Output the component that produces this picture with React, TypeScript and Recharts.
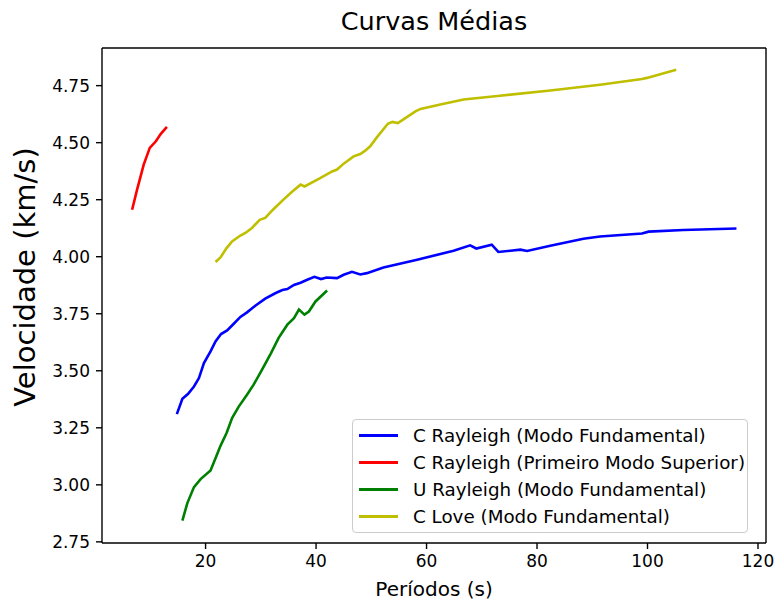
import React from "react";
import { LineChart, Line, XAxis, YAxis, ReferenceLine } from "recharts";

// períodos (s) e velocidades (km/s)
const cRayFundP = [14.8, 15.8, 16.8, 17.9, 18.8, 19.7, 20.9, 21.8, 22.8, 23.9, 25.1, 26.3, 27.5, 29.0, 30.8, 32.7, 33.9, 34.8, 36.0, 37.2, 38.4, 39.7, 40.9, 41.9, 43.8, 45.0, 46.5, 48.0, 49.2, 52.2, 58.3, 64.9, 67.9, 69.0, 71.8, 73.0, 77.0, 78.2, 82.4, 88.4, 91.4, 99.0, 100.2, 106.5, 116.1];
const cRayFundV = [3.31, 3.377, 3.398, 3.431, 3.468, 3.534, 3.585, 3.629, 3.661, 3.677, 3.706, 3.736, 3.756, 3.785, 3.816, 3.841, 3.854, 3.858, 3.876, 3.886, 3.899, 3.912, 3.902, 3.909, 3.906, 3.921, 3.934, 3.922, 3.928, 3.953, 3.987, 4.026, 4.05, 4.036, 4.053, 4.021, 4.031, 4.025, 4.048, 4.079, 4.089, 4.102, 4.11, 4.117, 4.124];

const cRaySupP = [6.7, 7.6, 8.8, 9.9, 11.0, 11.9, 13.0];
const cRaySupV = [4.206, 4.294, 4.404, 4.477, 4.506, 4.539, 4.569];

const uRayFundP = [15.8, 16.7, 17.9, 19.1, 20.9, 21.8, 22.7, 23.8, 24.8, 26.0, 27.5, 28.7, 30.2, 31.8, 33.2, 34.8, 36.0, 36.9, 37.9, 38.7, 39.9, 42.0];
const uRayFundV = [2.843, 2.92, 2.99, 3.025, 3.063, 3.117, 3.171, 3.227, 3.293, 3.343, 3.395, 3.439, 3.504, 3.575, 3.643, 3.702, 3.731, 3.768, 3.746, 3.76, 3.804, 3.852];

const cLoveFundP = [21.8, 22.7, 23.8, 24.8, 26.3, 27.2, 28.4, 29.8, 30.8, 32.2, 33.9, 35.7, 37.2, 37.9, 40.5, 42.9, 43.8, 45.0, 46.8, 48.0, 48.9, 49.8, 51.0, 53.0, 53.8, 54.8, 56.5, 58.0, 58.9, 62.5, 66.7, 73.3, 82.4, 91.4, 99.0, 99.9, 105.2];
const cLoveFundV = [3.977, 3.997, 4.038, 4.067, 4.093, 4.104, 4.126, 4.162, 4.17, 4.206, 4.246, 4.286, 4.316, 4.308, 4.341, 4.374, 4.382, 4.408, 4.44, 4.45, 4.465, 4.484, 4.523, 4.583, 4.591, 4.586, 4.613, 4.637, 4.648, 4.667, 4.689, 4.706, 4.729, 4.754, 4.779, 4.784, 4.82];

const xTicks = [20, 40, 60, 80, 100, 120];
const yTicks = [2.75, 3.0, 3.25, 3.5, 3.75, 4.0, 4.25, 4.5, 4.75];

const X_DOMAIN: [number, number] = [1.25, 121.45];
const Y_DOMAIN: [number, number] = [2.745, 4.915];

const toPoints = (p: number[], v: number[]) => p.map((x, i) => ({ p: x, v: v[i] }));

const series = [
  { name: "C Rayleigh (Modo Fundamental)", color: "#0000ff", data: toPoints(cRayFundP, cRayFundV) },
  { name: "C Rayleigh (Primeiro Modo Superior)", color: "#ff0000", data: toPoints(cRaySupP, cRaySupV) },
  { name: "U Rayleigh (Modo Fundamental)", color: "#008000", data: toPoints(uRayFundP, uRayFundV) },
  { name: "C Love (Modo Fundamental)", color: "#bfbf00", data: toPoints(cLoveFundP, cLoveFundV) },
];

const FONT = "'DejaVu Sans', sans-serif";
const tickStyle = { fill: "#000", fontSize: 17, fontFamily: FONT };

export default function App() {
  return (
    <div style={{ position: "absolute", left: 0, top: 0, width: 778, height: 605, background: "#fff" }}>
      <LineChart width={778} height={605} margin={{ top: 48, right: 12, bottom: 0, left: 0 }}>
        <XAxis
          dataKey="p"
          type="number"
          domain={X_DOMAIN}
          allowDataOverflow
          ticks={xTicks}
          tick={tickStyle}
          tickSize={6}
          tickMargin={6}
          height={62}
          stroke="#000"
          axisLine={{ stroke: "#000", strokeWidth: 1.4 }}
          tickLine={{ stroke: "#000", strokeWidth: 1.4 }}
          label={{
            value: "Períodos (s)",
            position: "insideBottom",
            offset: 9,
            style: { fill: "#000", fontSize: 20, fontFamily: FONT },
          }}
        />
        <YAxis
          dataKey="v"
          type="number"
          domain={Y_DOMAIN}
          allowDataOverflow
          ticks={yTicks}
          tickFormatter={(v: number) => v.toFixed(2)}
          tick={tickStyle}
          tickSize={6}
          tickMargin={6}
          width={102}
          stroke="#000"
          axisLine={{ stroke: "#000", strokeWidth: 1.4 }}
          tickLine={{ stroke: "#000", strokeWidth: 1.4 }}
          label={{
            content: () => (
              <text
                x={25}
                y={277}
                transform="rotate(-90 25 277)"
                textAnchor="middle"
                dominantBaseline="central"
                style={{ fill: "#000", fontSize: 29, fontFamily: FONT }}
              >
                Velocidade (km/s)
              </text>
            ),
          }}
        />
        <ReferenceLine x={X_DOMAIN[1]} stroke="#000" strokeWidth={1.4} />
        <ReferenceLine y={Y_DOMAIN[1]} stroke="#000" strokeWidth={1.4} />
        {series.map((s) => (
          <Line
            key={s.name}
            data={s.data}
            dataKey="v"
            name={s.name}
            type="linear"
            stroke={s.color}
            strokeWidth={2.6}
            dot={false}
            activeDot={false}
            isAnimationActive={false}
          />
        ))}
        <text x={434} y={30} textAnchor="middle" style={{ fill: "#000", fontSize: 25.5, fontFamily: FONT }}>
          Curvas Médias
        </text>
      </LineChart>
      <div
        style={{
          position: "absolute",
          left: 352,
          top: 419,
          width: 394,
          height: 112,
          border: "1px solid #cccccc",
          borderRadius: 4,
          background: "rgba(255,255,255,0.8)",
          fontFamily: FONT,
          fontSize: 18.3,
          color: "#000",
        }}
      >
        {series.map((s, i) => (
          <div
            key={s.name}
            style={{ position: "absolute", left: 0, top: 2 + i * 27, height: 27, display: "flex", alignItems: "center", whiteSpace: "nowrap" }}
          >
            <span style={{ display: "inline-block", marginLeft: 6, width: 39, height: 2.6, background: s.color }} />
            <span style={{ marginLeft: 15 }}>{s.name}</span>
          </div>
        ))}
      </div>
    </div>
  );
}
